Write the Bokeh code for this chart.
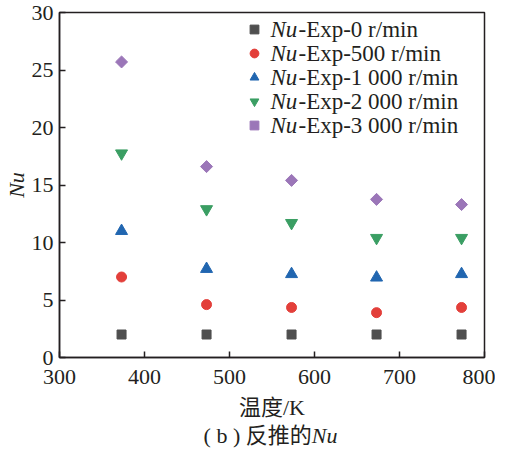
import numpy as np
from math import pi
from bokeh.plotting import figure
from bokeh.models import Legend, LegendItem, Label, FixedTicker, Div
from bokeh.layouts import column
from bokeh.embed import file_html
from bokeh.resources import INLINE

# temperature (K) and Nu
temperature = [373, 473, 573, 673, 773]
nu_0 = [2.0, 2.0, 2.0, 2.0, 2.0]
nu_500 = [7.0, 4.6, 4.35, 3.9, 4.35]
nu_1000 = [11.0, 7.7, 7.25, 6.95, 7.25]
nu_2000 = [17.75, 12.9, 11.7, 10.4, 10.4]
nu_3000 = [25.7, 16.6, 15.4, 13.75, 13.3]

speeds = ["0", "500", "1 000", "2 000", "3 000"]
x_ticks = [300, 400, 500, 600, 700, 800]
y_ticks = [0, 5, 10, 15, 20, 25, 30]

SERIF = "Liberation Serif"
CJK = "Liberation Serif, Noto Sans CJK SC"
INK = "#231f20"

p = figure(width=495, height=422, x_range=(300, 800), y_range=(0, 30),
           output_backend="svg", toolbar_location=None,
           min_border_left=50, min_border_right=11,
           min_border_top=12, min_border_bottom=62)

series = [
    (nu_0, "square", "#4f4f4f", 9, 0),
    (nu_500, "circle", "#e33f3a", 10, 0),
    (nu_1000, "triangle", "#2166b0", 12, 0),
    (nu_2000, "inverted_triangle", "#3a9e63", 12, 0),
    (nu_3000, "square", "#9b76b8", 8.5, pi / 4),
]

items = []
for (vals, marker, color, size, ang), sp in zip(series, speeds):
    r = p.scatter(temperature, vals, marker=marker, size=size, angle=ang,
                  fill_color=color, line_color=color)
    items.append(LegendItem(label=" ", renderers=[r]))

# legend only draws the markers, the texts are labels next to them
legend = Legend(items=items, location=(184, 221), label_standoff=0,
                glyph_width=22, glyph_height=22, label_height=20, label_width=10,
                spacing=2, padding=0, margin=0,
                border_line_color=None, background_fill_alpha=0,
                label_text_font_size="10px")
p.add_layout(legend)

for i, sp in enumerate(speeds):
    p.add_layout(Label(x=211, y=328 - i * 24, x_units="screen", y_units="screen",
                       text="Nu", text_font=SERIF, text_font_style="italic",
                       text_font_size="23px", text_color=INK,
                       text_baseline="middle"))
    p.add_layout(Label(x=239, y=328 - i * 24, x_units="screen", y_units="screen",
                       text="-Exp-" + sp + " r/min", text_font=SERIF,
                       text_font_size="23px", text_color=INK,
                       text_baseline="middle"))

p.xgrid.visible = False
p.ygrid.visible = False
p.outline_line_color = INK
p.outline_line_width = 1.5

p.xaxis.ticker = FixedTicker(ticks=x_ticks)
p.yaxis.ticker = FixedTicker(ticks=y_ticks)
for ax in [p.xaxis, p.yaxis]:
    ax.axis_line_color = INK
    ax.axis_line_width = 1.5
    ax.major_tick_in = 6
    ax.major_tick_out = 0
    ax.major_tick_line_color = INK
    ax.major_tick_line_width = 1.5
    ax.minor_tick_line_color = None
    ax.major_label_text_font = SERIF
    ax.major_label_text_font_size = "22px"
    ax.major_label_text_color = INK

p.xaxis.major_label_standoff = 12
p.yaxis.major_label_standoff = 6

p.xaxis.axis_label = "温度/K"
p.xaxis.axis_label_text_font = CJK
p.xaxis.axis_label_text_font_size = "22px"
p.xaxis.axis_label_text_font_style = "normal"
p.xaxis.axis_label_text_color = INK
p.xaxis.axis_label_standoff = 8

p.yaxis.axis_label = "Nu"
p.yaxis.axis_label_text_font = SERIF
p.yaxis.axis_label_text_font_size = "22px"
p.yaxis.axis_label_text_font_style = "italic"
p.yaxis.axis_label_text_color = INK
p.yaxis.axis_label_standoff = 0

# caption under the chart
caption = Div(text="( b ) 反推的<i>Nu</i>", width=495, height=28, margin=0,
              styles={"font-family": "'Liberation Serif', 'Noto Sans CJK SC'",
                      "font-size": "22px", "color": INK,
                      "text-align": "center", "padding-left": "46px",
                      "line-height": "28px"})

layout = column(p, caption, spacing=0)

open("out.html", "w").write(file_html(layout, INLINE))
